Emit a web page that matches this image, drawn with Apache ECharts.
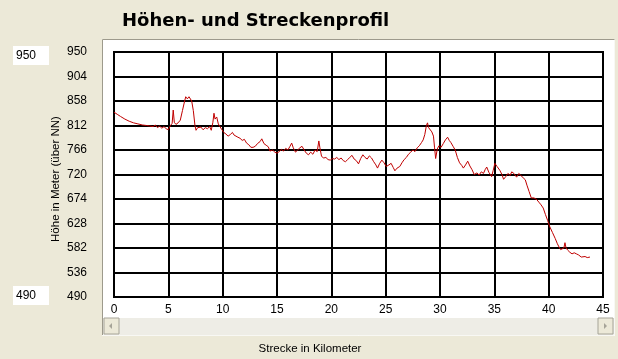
<!DOCTYPE html>
<html><head><meta charset="utf-8">
<script src="https://cdn.jsdelivr.net/npm/echarts@6/dist/echarts.min.js"></script>
<style>html,body{margin:0;padding:0;background:#ECE9D8;overflow:hidden}#c{width:618px;height:359px}</style>
</head><body><div id="c"></div>
<script>
// Distance in km
const km = [0,0.3,0.6,1.0,1.4,1.8,2.2,2.6,3.0,3.3,3.6,3.8,4.0,4.2,4.4,4.6,4.8,5.0,5.2,5.35,5.45,5.55,5.7,5.9,6.1,6.3,6.5,6.6,6.75,6.9,7.0,7.15,7.3,7.45,7.55,7.7,7.85,8.0,8.2,8.4,8.6,8.8,8.95,9.1,9.2,9.3,9.45,9.6,9.75,9.9,10.1,10.3,10.5,10.7,10.9,11.05,11.2,11.4,11.6,11.8,12.0,12.2,12.4,12.6,12.8,13.0,13.2,13.45,13.6,13.8,14.0,14.2,14.35,14.6,14.8,15.0,15.2,15.4,15.6,15.8,16.0,16.2,16.35,16.5,16.7,16.9,17.1,17.3,17.5,17.7,17.9,18.1,18.3,18.5,18.7,18.85,18.95,19.1,19.3,19.5,19.7,19.9,20.1,20.3,20.5,20.7,20.9,21.1,21.3,21.5,21.7,21.9,22.1,22.3,22.5,22.7,22.9,23.1,23.3,23.5,23.7,23.9,24.1,24.25,24.45,24.65,24.85,25.05,25.3,25.5,25.7,25.85,26.05,26.3,26.5,26.7,26.9,27.1,27.3,27.5,27.7,27.9,28.1,28.3,28.45,28.6,28.75,28.85,28.95,29.1,29.25,29.4,29.5,29.6,29.75,29.9,30.1,30.3,30.5,30.7,30.85,31.0,31.2,31.4,31.6,31.8,32.0,32.15,32.35,32.55,32.75,32.95,33.15,33.4,33.6,33.8,34.0,34.15,34.3,34.5,34.75,34.9,35.05,35.25,35.5,35.7,35.85,36.05,36.25,36.45,36.6,36.8,37.05,37.25,37.45,37.65,37.85,38.0,38.2,38.4,38.65,38.9,39.1,39.3,39.5,39.7,39.9,40.1,40.35,40.6,40.8,40.95,41.1,41.25,41.4,41.5,41.6,41.75,41.95,42.15,42.35,42.55,42.75,43.0,43.15,43.35,43.55,43.8];
// Elevation in m
const hoehe = [837,833,829,824,820,817,815,813,812,811,810,813,808,811,807,810,806,804,812,816,841,818,814,817,822,840,858,866,862,866,869,858,840,812,803,808,805,809,804,808,806,810,803,818,835,824,828,815,817,805,799,796,792,795,799,794,797,790,788,784,786,779,776,771,771,773,778,782,787,778,775,772,764,766,762,760,763,767,764,769,766,773,779,770,762,766,770,773,766,760,757,762,758,766,763,783,770,754,751,752,748,747,750,749,752,748,751,746,744,748,752,756,749,746,740,750,757,752,749,755,751,744,738,732,741,747,742,735,738,741,733,727,732,735,742,748,752,758,762,766,763,770,774,780,785,795,812,817,808,806,800,792,770,750,768,774,771,778,785,790,784,780,773,766,752,742,737,732,738,745,736,729,720,723,719,725,722,729,734,724,716,728,741,735,728,720,711,716,722,718,725,722,715,722,718,714,710,700,688,676,676,673,668,663,657,645,634,622,611,600,590,584,579,576,582,592,582,578,574,571,573,571,569,565,568,566,564,565];
const yMin = 490, yMax = 950, yStep = 46;
const xMin = 0, xMax = 45, xStep = 5;
const title = 'Höhen- und Streckenprofil';
const yTitle = 'Höhe in Meter (über NN)';
const xTitle = 'Strecke in Kilometer';
const boxTop = '950', boxBottom = '490';

const data = km.map((k, i) => [k, hoehe[i] - yMin]);
const chart = echarts.init(document.getElementById('c'), null, {renderer: 'canvas'});
const font = 'Arial, "Liberation Sans", sans-serif';
chart.setOption({
  animation: false,
  backgroundColor: '#ECE9D8',
  grid: {left: 114, top: 52, width: 489, height: 245, show: true, backgroundColor: '#fff', borderColor: '#000', borderWidth: 2},
  xAxis: {
    type: 'value', min: xMin, max: xMax, interval: xStep,
    axisLine: {show: true, lineStyle: {color: '#000', width: 2}},
    axisTick: {show: false},
    splitLine: {show: true, lineStyle: {color: '#000', width: 2}},
    axisLabel: {color: '#000', fontFamily: font, fontSize: 12, margin: 7}
  },
  yAxis: {
    type: 'value', min: 0, max: yMax - yMin, interval: yStep,
    axisLine: {show: true, lineStyle: {color: '#000', width: 2}},
    axisTick: {show: false},
    splitLine: {show: true, lineStyle: {color: '#000', width: 2}},
    axisLabel: {color: '#000', fontFamily: font, fontSize: 12, margin: 27, formatter: v => String(v + yMin)}
  },
  series: [{
    type: 'line', data: data, showSymbol: false, symbol: 'none',
    lineStyle: {color: '#C00000', width: 1}, z: 5
  }],
  graphic: [
    {type: 'rect', z: -10, shape: {x: 102, y: 39, width: 513, height: 297}, style: {fill: '#fff', stroke: null}},
    {type: 'polyline', z: -9, shape: {points: [[102.5, 336], [102.5, 39.5], [615, 39.5]]}, style: {stroke: '#9D9A8C', lineWidth: 1, fill: null}},
    {type: 'polyline', z: -9, shape: {points: [[614.5, 39.5], [614.5, 335.5], [102, 335.5]]}, style: {stroke: '#F8F8F4', lineWidth: 1, fill: null}},
    // scrollbar
    {type: 'rect', z: -8, shape: {x: 103, y: 318, width: 511, height: 17}, style: {fill: '#EEEDE6'}},
    {type: 'rect', z: -7, shape: {x: 104, y: 318, width: 15, height: 16}, style: {fill: '#ECE9D8', stroke: '#A6A498', lineWidth: 1}},
    {type: 'polygon', z: -6, shape: {points: [[109, 326], [112, 323], [112, 329]]}, style: {fill: '#A6A498'}},
    {type: 'rect', z: -7, shape: {x: 598, y: 318, width: 15, height: 16}, style: {fill: '#ECE9D8', stroke: '#A6A498', lineWidth: 1}},
    {type: 'polygon', z: -6, shape: {points: [[607, 326], [604, 323], [604, 329]]}, style: {fill: '#A6A498'}},
    // titles
    {type: 'text', x: 122, y: 21, style: {text: title, fontFamily: '"DejaVu Sans", Arial, sans-serif', fontWeight: 'bold', fontSize: 18, fill: '#000', verticalAlign: 'middle'}},
    {type: 'text', x: 310, y: 349, style: {text: xTitle, fontFamily: font, fontSize: 11.5, fill: '#000', align: 'center', verticalAlign: 'middle'}},
    {type: 'text', x: 56, y: 179, rotation: Math.PI / 2, style: {text: yTitle, fontFamily: font, fontSize: 11.5, fill: '#000', align: 'center', verticalAlign: 'middle'}},
    // text boxes
    {type: 'rect', shape: {x: 13, y: 46, width: 36, height: 19}, style: {fill: '#fff'}},
    {type: 'text', x: 16, y: 56, style: {text: boxTop, fontFamily: font, fontSize: 12, fill: '#000', verticalAlign: 'middle'}},
    {type: 'rect', shape: {x: 13, y: 286, width: 36, height: 19}, style: {fill: '#fff'}},
    {type: 'text', x: 16, y: 296, style: {text: boxBottom, fontFamily: font, fontSize: 12, fill: '#000', verticalAlign: 'middle'}}
  ]
});
</script>
</body></html>
